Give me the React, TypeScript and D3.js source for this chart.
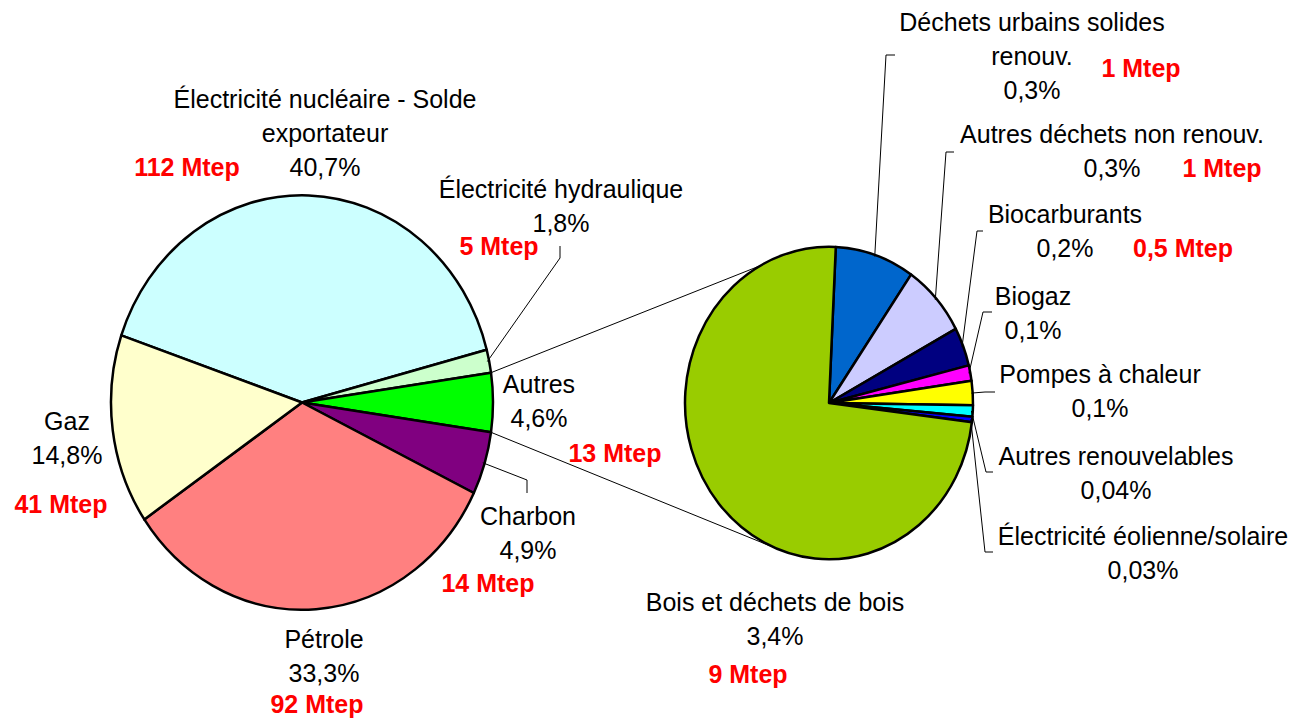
import React from 'react';
import * as d3 from 'd3';

// Main pie: share of primary energy consumption
const mainLabels = ['Électricité nucléaire - Solde\nexportateur', 'Électricité hydraulique', 'Autres', 'Charbon', 'Pétrole', 'Gaz'];
const mainShares = [40.7, 1.8, 4.6, 4.9, 33.3, 14.8];
const mainPercents = ['40,7%', '1,8%', '4,6%', '4,9%', '33,3%', '14,8%'];
const mainMtep = ['112 Mtep', '5 Mtep', '13 Mtep', '14 Mtep', '92 Mtep', '41 Mtep'];
const mainColors = ['#CCFFFF', '#CCFFCC', '#00FF00', '#800080', '#FF8080', '#FFFFCC'];

// Secondary pie: breakdown of "Autres" (slice sizes as drawn)
const subLabels = ['Déchets urbains solides\nrenouv.', 'Autres déchets non renouv.', 'Biocarburants', 'Biogaz', 'Pompes à chaleur', 'Autres renouvelables', 'Électricité éolienne/solaire', 'Bois et déchets de bois'];
const subShares = [0.41, 0.345, 0.184, 0.074, 0.115, 0.054, 0.026, 3.4];
const subPercents = ['0,3%', '0,3%', '0,2%', '0,1%', '0,1%', '0,04%', '0,03%', '3,4%'];
const subMtep = ['1 Mtep', '1 Mtep', '0,5 Mtep', '', '', '', '', '9 Mtep'];
const subColors = ['#0066CC', '#CCCCFF', '#000080', '#FF00FF', '#FFFF00', '#00FFFF', '#0000FF', '#99CC00'];

const W = 1292;
const H = 719;
const FONT = '"Liberation Sans", Arial, sans-serif';
const FS = 25;
const LH = 34;
const STRETCH = 1.085; // pies are slightly taller than wide

const mainPie = { cx: 302, cy: 402.5, r: 191 };
const subPie = { cx: 829, cy: 403, r: 144 };

const mainLayout = [
  { x: 325, y: 108, mx: 187, my: 176 },
  { x: 561, y: 198, mx: 499, my: 255, leader: [[560, 246], [560, 258]] },
  { x: 539, y: 393, mx: 615, my: 462 },
  { x: 528, y: 525, mx: 488, my: 592, leader: [[527, 493], [527, 480]] },
  { x: 324, y: 648, mx: 317, my: 713 },
  { x: 67, y: 430, mx: 61, my: 513 },
];

const subLayout = [
  { x: 1032, y: 31, mx: 1141, my: 77, leader: [[895, 55], [886, 55]] },
  { x: 1112, y: 143, mx: 1222, my: 177, leader: [[954, 152], [946, 152]] },
  { x: 1065, y: 223, mx: 1183, my: 257, leader: [[983, 231], [977, 231]] },
  { x: 1033, y: 305, leader: [[992, 312], [983, 312]] },
  { x: 1100, y: 383, leader: [[995, 392], [985, 392]] },
  { x: 1116, y: 465, leader: [[993, 472], [986, 472]] },
  { x: 1143, y: 545, leader: [[993, 552], [985, 552]] },
  { x: 775, y: 611, mx: 748, my: 683 },
];

const toRad = (deg: number) => (deg * Math.PI) / 180;

// point on the (stretched) pie rim at a d3 angle (0 = 12 o'clock, clockwise)
const rim = (p: { cx: number; cy: number; r: number }, a: number, k = 1) => [
  p.cx + p.r * k * Math.sin(a),
  p.cy - p.r * STRETCH * k * Math.cos(a),
];

export default function App() {
  // centre the "Autres" slice on 3 o'clock, as Excel does for pie-of-pie
  const total = d3.sum(mainShares);
  const before = mainShares[0] + mainShares[1] + mainShares[2] / 2;
  const start = Math.PI / 2 - (before / total) * 2 * Math.PI;

  const mainArcs = d3.pie<number>().sort(null).startAngle(start).endAngle(start + 2 * Math.PI)(mainShares);
  const subStart = toRad(2.7);
  const subArcs = d3.pie<number>().sort(null).startAngle(subStart).endAngle(subStart + 2 * Math.PI)(subShares);

  const mainArc = d3.arc<d3.PieArcDatum<number>>().innerRadius(0).outerRadius(mainPie.r);
  const subArc = d3.arc<d3.PieArcDatum<number>>().innerRadius(0).outerRadius(subPie.r);

  const autres = mainArcs[2];
  const c1a = rim(mainPie, autres.startAngle);
  const c1b = rim(subPie, toRad(-28.5));
  const c2a = rim(mainPie, autres.endAngle);
  const c2b = rim(subPie, toRad(199.6));

  const line = d3.line();

  const renderLabel = (
    text: string,
    pct: string,
    mtep: string,
    lay: any,
    key: string
  ) => {
    const lines = text.split('\n').concat([pct]);
    return (
      <g key={key}>
        <text x={lay.x} y={lay.y} textAnchor="middle" fontFamily={FONT} fontSize={FS} fill="#000">
          {lines.map((l, i) => (
            <tspan key={i} x={lay.x} y={lay.y + i * LH}>{l}</tspan>
          ))}
        </text>
        {mtep && lay.mx != null && (
          <text x={lay.mx} y={lay.my} textAnchor="middle" fontFamily={FONT} fontSize={FS} fontWeight="bold" fill="#FF0000">
            {mtep}
          </text>
        )}
      </g>
    );
  };

  return (
    <svg width={W} height={H} style={{ position: 'absolute', left: 0, top: 0, background: '#fff' }}>
      {/* connector lines between the two pies */}
      <path d={line([c1a, c1b] as any) || ''} stroke="#000" strokeWidth={1} fill="none" />
      <path d={line([c2a, c2b] as any) || ''} stroke="#000" strokeWidth={1} fill="none" />

      <g transform={`translate(${mainPie.cx},${mainPie.cy}) scale(1,${STRETCH})`}>
        {mainArcs.map((a, i) => (
          <path key={i} d={mainArc(a) || ''} fill={mainColors[i]} stroke="#000" strokeWidth={2.5}
            strokeLinejoin="round" style={{ vectorEffect: 'non-scaling-stroke' } as any} />
        ))}
      </g>

      <g transform={`translate(${subPie.cx},${subPie.cy}) scale(1,${STRETCH})`}>
        {subArcs.map((a, i) => (
          <path key={i} d={subArc(a) || ''} fill={subColors[i]} stroke="#000" strokeWidth={2.5}
            strokeLinejoin="round" style={{ vectorEffect: 'non-scaling-stroke' } as any} />
        ))}
      </g>

      {/* leader lines */}
      {mainLayout.map((lay, i) => {
        if (!lay.leader) return null;
        const a = mainArcs[i];
        const end = rim(mainPie, (a.startAngle + a.endAngle) / 2, 0.99);
        return <path key={'ml' + i} d={line([...lay.leader, end] as any) || ''} stroke="#000" strokeWidth={1} fill="none" />;
      })}
      {subLayout.map((lay, i) => {
        if (!lay.leader) return null;
        const a = subArcs[i];
        const end = rim(subPie, (a.startAngle + a.endAngle) / 2, 0.99);
        return <path key={'sl' + i} d={line([...lay.leader, end] as any) || ''} stroke="#000" strokeWidth={1} fill="none" />;
      })}

      {mainLabels.map((t, i) => renderLabel(t, mainPercents[i], mainMtep[i], mainLayout[i], 'm' + i))}
      {subLabels.map((t, i) => renderLabel(t, subPercents[i], subMtep[i], subLayout[i], 's' + i))}
    </svg>
  );
}
